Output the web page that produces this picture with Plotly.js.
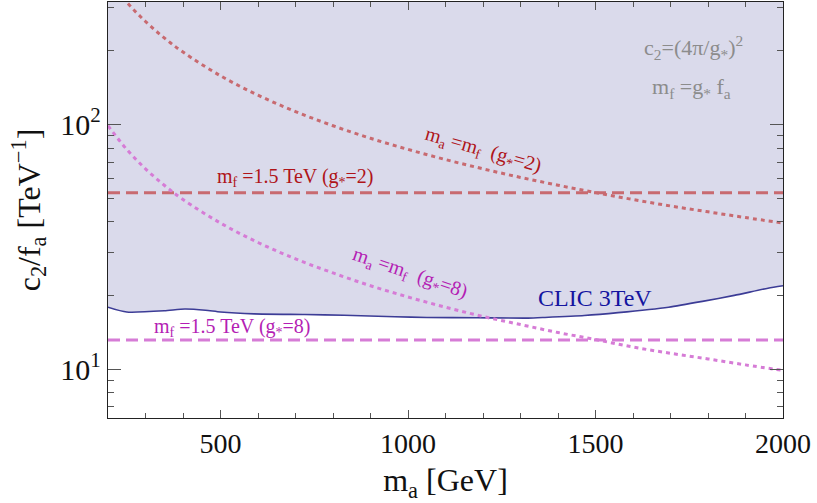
<!DOCTYPE html>
<html>
<head>
<meta charset="utf-8">
<script src="https://cdn.plot.ly/plotly-3.0.1.min.js"></script>
<style>html,body{margin:0;padding:0;background:#fff;}#chart{width:817px;height:503px;}</style>
</head>
<body>
<div id="chart"></div>
<script>
// m_a grid (GeV) for the m_a = m_f curves
const maGrid = [200,250,300,350,400,500,600,700,800,900,1000,1100,1200,1300,1400,1500,1600,1700,1800,1900,2000];
// c2/f_a along m_a = m_f, g* = 2 (TeV^-1)
const maEqMf_g2 = [394.8,315.8,263.2,225.6,197.4,157.9,131.6,112.8,98.7,87.7,79.0,71.8,65.8,60.7,56.4,52.6,49.3,46.4,43.9,41.6,39.5];
// c2/f_a along m_a = m_f, g* = 8 (TeV^-1)
const maEqMf_g8 = [98.7,79.0,65.8,56.4,49.3,39.5,32.9,28.2,24.7,21.9,19.7,17.9,16.4,15.2,14.1,13.2,12.3,11.6,11.0,10.4,9.87];
// m_f = 1.5 TeV horizontal lines
const mfLineX = [200, 2000];
const mf15_g2 = [52.6, 52.6];
const mf15_g8 = [13.16, 13.16];
// CLIC 3 TeV reach
const clicMa = [200,250,350,405,460,500,590,725,830,965,1050,1185,1320,1365,1470,1560,1695,1785,1870,1960,2000];
const clicLim = [17.9,17.1,17.3,17.6,17.4,17.1,16.8,16.7,16.6,16.35,16.25,16.2,16.15,16.25,16.55,17.0,17.9,18.9,20.0,21.4,21.9];
// axis ticks
const xTicks = [500,1000,1500,2000];
const xMinor = [300,400,600,700,800,900,1100,1200,1300,1400,1600,1700,1800,1900];
const yTicks = [10,100];
const yTickText = ['10<sup>1</sup>','10<sup>2</sup>'];
const yMinor = [7,8,9,20,30,40,50,60,70,80,90,200,300];

const redLine = 'rgb(200,106,112)';
const pinkLine = 'rgb(214,124,214)';
const serif = 'Liberation Serif, Times New Roman, serif';

const traces = [
  { // shaded excluded region above CLIC curve
    x: clicMa.concat([2000, 200]),
    y: clicLim.concat([2000, 2000]),
    mode: 'lines', fill: 'toself', fillcolor: 'rgb(218,218,235)',
    line: {width: 0}, hoverinfo: 'skip', showlegend: false
  },
  {
    x: clicMa, y: clicLim, mode: 'lines',
    line: {color: 'rgb(60,60,150)', width: 1.6, shape: 'spline', smoothing: 0.6}, showlegend: false
  },
  {
    x: mfLineX, y: mf15_g2, mode: 'lines',
    line: {color: redLine, width: 3, dash: '12px,6px'}, showlegend: false
  },
  {
    x: mfLineX, y: mf15_g8, mode: 'lines',
    line: {color: pinkLine, width: 3, dash: '12px,6px'}, showlegend: false
  },
  {
    x: maGrid, y: maEqMf_g2, mode: 'lines',
    line: {color: redLine, width: 3, dash: '4px,4px', shape: 'spline', smoothing: 1}, showlegend: false
  },
  {
    x: maGrid, y: maEqMf_g8, mode: 'lines',
    line: {color: pinkLine, width: 3, dash: '4px,4px', shape: 'spline', smoothing: 1}, showlegend: false
  }
];

const lg = v => Math.log10(v);
const annotations = [
  {x: 1760, y: lg(207), text: 'c<sub>2</sub>=(4π/g<sub>*</sub>)<sup>2</sup>', showarrow: false,
   font: {family: serif, size: 22, color: 'rgb(140,140,140)'}},
  {x: 1757, y: lg(141), text: 'm<sub>f</sub> =g<sub>*</sub> f<sub>a</sub>', showarrow: false,
   font: {family: serif, size: 22, color: 'rgb(140,140,140)'}},
  {x: 1200, y: lg(78), text: 'm<sub>a</sub> =m<sub>f</sub>  (g<sub>*</sub>=2)', showarrow: false, textangle: 16,
   font: {family: serif, size: 20, color: 'rgb(175,20,25)'}},
  {x: 701, y: lg(60.4), text: 'm<sub>f</sub> =1.5 TeV (g<sub>*</sub>=2)', showarrow: false,
   font: {family: serif, size: 20, color: 'rgb(175,20,25)'}},
  {x: 1005, y: lg(24.6), text: 'm<sub>a</sub> =m<sub>f</sub>  (g<sub>*</sub>=8)', showarrow: false, textangle: 19,
   font: {family: serif, size: 20, color: 'rgb(180,30,180)'}},
  {x: 531, y: lg(14.85), text: 'm<sub>f</sub> =1.5 TeV (g<sub>*</sub>=8)', showarrow: false,
   font: {family: serif, size: 20, color: 'rgb(180,30,180)'}},
  {x: 1499, y: lg(19.6), text: 'CLIC 3TeV', showarrow: false,
   font: {family: serif, size: 24, color: 'rgb(20,20,160)'}}
];

const layout = {
  width: 817, height: 503,
  margin: {l: 108, r: 34, t: 2, b: 85},
  paper_bgcolor: '#fff', plot_bgcolor: '#fff',
  showlegend: false,
  font: {family: serif, color: '#111'},
  xaxis: {
    range: [200, 2000], tickmode: 'array', tickvals: xTicks,
    ticks: 'inside', ticklen: 8, tickwidth: 1, tickcolor: '#555',
    mirror: 'allticks', showline: true, linecolor: '#222', linewidth: 1.3,
    showgrid: false, zeroline: false,
    tickfont: {family: serif, size: 28, color: '#111'},
    minor: {tickmode: 'array', tickvals: xMinor, ticks: 'inside', ticklen: 5, tickwidth: 1, tickcolor: '#555', showgrid: false},
    title: {text: 'm<sub>a</sub> [GeV]', font: {family: serif, size: 32, color: '#111'}, standoff: 14}
  },
  yaxis: {
    type: 'log', range: [0.8, 2.5], tickmode: 'array', tickvals: yTicks, ticktext: yTickText,
    ticks: 'inside', ticklen: 13, tickwidth: 1, tickcolor: '#555',
    mirror: 'allticks', showline: true, linecolor: '#222', linewidth: 1.3,
    showgrid: false, zeroline: false,
    tickfont: {family: serif, size: 30, color: '#111'},
    minor: {tickmode: 'array', tickvals: yMinor, ticks: 'inside', ticklen: 6, tickwidth: 1, tickcolor: '#555', showgrid: false},
    title: {text: 'c<sub>2</sub>/f<sub>a</sub> [TeV<sup>−1</sup>]', font: {family: serif, size: 32, color: '#111'}, standoff: 10}
  },
  annotations: annotations
};

Plotly.newPlot('chart', traces, layout, {staticPlot: true, displayModeBar: false});
</script>
</body>
</html>
